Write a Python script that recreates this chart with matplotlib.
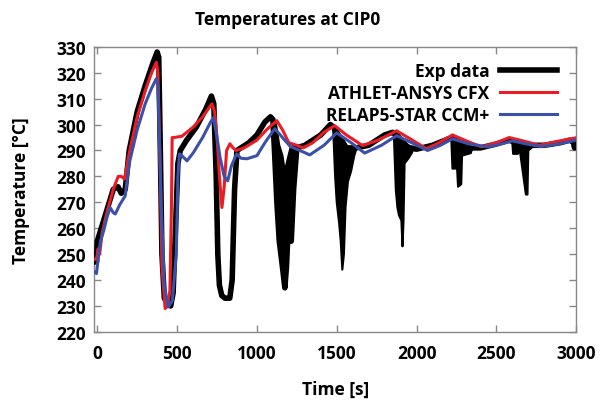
import numpy as np
from matplotlib import pyplot as plt

# Exp data main trace (time [s], temperature [C])
exp_t = [-15, -5, 0, 10, 40, 100, 130, 150, 175, 200, 250, 300, 350, 375, 385,
         395, 405, 420, 440, 460, 475, 490, 505, 520, 560, 620, 680, 715, 730,
         745, 755, 765, 780, 800, 830, 845, 860, 875, 900, 950, 1000, 1050, 1085,
         1100, 1110, 1125, 1140, 1160, 1175, 1185, 1200, 1215, 1230, 1250, 1300,
         1400, 1460, 1480, 1560, 1620, 1700, 1800, 1850, 1870, 1950, 2000, 2100,
         2200, 2240, 2310, 2400, 2500, 2580, 2600, 2700, 2800, 2900, 2960, 2985,
         2990, 3000]
exp_T = [247, 247, 255, 257, 263, 275, 276, 273.5, 275, 290, 305, 315, 324, 328, 326,
         290, 250, 233, 231, 230, 235, 260, 285, 290, 294, 299, 306, 311, 308,
         280, 250, 238, 234, 233, 233, 240, 275, 290, 291, 293, 296, 301, 303,
         302, 290, 270, 255, 245, 237, 245, 265, 255, 275, 291, 292,
         296, 300, 299, 291, 291, 292, 296, 297, 296, 291, 290.5, 292,
         294.5, 294.5, 291, 291, 292.5, 294, 293.5, 292, 292, 293, 294, 293,
         291, 294]

# Exp data fluctuation bands (lower / upper envelope), NaN separates the dips
dip_t = [1105, 1120, 1140, 1160, 1175, 1190, 1210, 1230, 1250, np.nan,
         1478, 1490, 1500, 1515, 1525, 1535, 1545, 1555, 1570, 1590, 1610, 1625, np.nan,
         1858, 1870, 1880, 1890, 1905, 1912, 1918, 1925, 1950, 1970, 1980, np.nan,
         2218, 2225, 2245, 2250, 2260, 2280, 2285, 2340, 2350, np.nan,
         2600, 2605, 2635, 2645, 2685, 2695, 2700, 2720, np.nan,
         2975, 2980, 2990]
dip_lo = [300, 278, 258, 246, 237, 250, 262, 276, 291, np.nan,
          298, 280, 270, 262, 255, 244, 250, 268, 278, 282, 288, 291, np.nan,
          296, 275, 268, 265, 263, 253, 262, 285, 287, 289, 291, np.nan,
          294, 283, 283, 288, 276, 277, 288, 289, 291, np.nan,
          293, 288.7, 288.7, 291, 273, 273, 290, 291, np.nan,
          293, 291, 293]
dip_hi = [302, 300, 292, 288, 282, 286, 291, 292, 292, np.nan,
          299, 298, 297, 296, 295, 294, 293, 292, 291.5, 291, 291, 291.5, np.nan,
          297, 297, 296.5, 296, 295, 294, 293.5, 293, 292, 291.5, 291.5, np.nan,
          294.5, 294.5, 294, 294, 293.5, 293, 292.5, 291.5, 291.5, np.nan,
          294, 294, 293.5, 293, 292.5, 292, 292, 292, np.nan,
          294, 294, 294]

# ATHLET-ANSYS CFX
cfx_t = [-15, -5, 5, 15, 30, 60, 100, 131, 150, 170, 200, 250, 300, 340, 370, 380,
         395, 405, 425, 440, 455, 465, 469, 480, 530, 600, 660, 718, 735, 750,
         765, 781, 795, 810, 831, 850, 870, 920, 1000, 1060, 1125, 1160, 1200,
         1250, 1290, 1350, 1420, 1487, 1560, 1662, 1760, 1875, 1960, 2062,
         2140, 2225, 2320, 2406, 2500, 2581, 2680, 2769, 2880, 3000]
cfx_T = [248, 248, 252, 250, 258, 266, 275, 280, 280, 279, 289, 303, 313, 320, 324, 320,
         280, 245, 229, 230, 236, 270, 295, 295, 295.5, 299, 303, 308, 305, 295,
         280, 268, 276, 290, 292.6, 291, 290, 291, 294, 298, 301.5, 298, 293,
         292, 291, 293, 297, 299.6, 296, 291.9, 294, 297.6, 294.5, 290.7,
         293, 296, 293.5, 291.4, 293, 295, 293.5, 292, 293.5, 294.9]

# RELAP5-STAR CCM+
ccm_t = [-15, -5, 5, 20, 40, 60, 80, 100, 113, 140, 175, 200, 250, 300, 340, 370, 380,
         400, 420, 444, 470, 495, 505, 515, 530, 562, 600, 660, 710, 727, 745,
         770, 795, 817, 840, 873, 900, 937, 1000, 1050, 1112, 1160, 1210, 1269,
         1331, 1420, 1500, 1590, 1675, 1780, 1875, 1970, 2069, 2150, 2225, 2330,
         2450, 2530, 2600, 2690, 2780, 2890, 3000]
ccm_T = [243, 242.5, 248, 255, 259, 264, 268, 266, 265.5, 269, 272.5, 285, 298, 308, 314, 317.7, 315,
         270, 238, 229.6, 232, 250, 280, 288.7, 288, 286, 289, 295, 301, 302.6, 297,
         287, 280, 278.3, 284, 288.7, 287, 286.8, 288, 293, 298.4, 295, 291.5, 290,
         288.3, 292, 296.8, 293, 289, 292, 295.7, 293, 290, 292, 294.5, 292.5,
         291.4, 292.5, 293.7, 292.5, 291.5, 292.5, 294]

x_ticks = [0, 500, 1000, 1500, 2000, 2500, 3000]
y_ticks = list(range(220, 331, 10))

plt.rcParams['font.family'] = ['Open Sans', 'DejaVu Sans']
plt.rcParams['font.weight'] = 'bold'

fig = plt.figure(figsize=(6.11, 4.02), dpi=100)
ax = fig.add_axes([0.154, 0.172, 0.789, 0.709])

ax.fill_between(dip_t, dip_lo, dip_hi, color='black', lw=1.5, edgecolor='black')
ax.plot(exp_t, exp_T, color='black', lw=4, solid_joinstyle='round', label='Exp data', zorder=3)
ax.plot(cfx_t, cfx_T, color='#ec1c24', lw=2.2, label='ATHLET-ANSYS CFX', zorder=4)
ax.plot(ccm_t, ccm_T, color='#3b50a8', lw=2.2, label='RELAP5-STAR CCM+', zorder=5)

ax.set_xlim(-20, 3000)
ax.set_ylim(220, 330)
ax.set_xticks(x_ticks)
ax.set_yticks(y_ticks)
ax.tick_params(direction='in', length=5, width=1, color='#888888',
               top=True, right=True, labelsize=12.5, pad=6)
ax.tick_params(axis='x', pad=9)
for s in ax.spines.values():
    s.set_color('#888888')
    s.set_linewidth(1)
for lab in ax.get_xticklabels() + ax.get_yticklabels():
    lab.set_fontweight('bold')

ax.set_xlabel('Time [s]', fontsize=12.5, fontweight='bold')
ax.set_ylabel('Temperature [°C]', fontsize=12.5, fontweight='bold')
ax.xaxis.set_label_coords(0.5, -0.17)
ax.yaxis.set_label_coords(-0.133, 0.5)
fig.text(0.47, 0.95, 'Temperatures at CIP0', ha='center', va='center',
         fontsize=12.5, fontweight='bold')

leg = ax.legend(loc='upper right', bbox_to_anchor=(0.961, 0.948), markerfirst=False,
                frameon=False, handlelength=3.3, handletextpad=0.6, borderpad=0,
                borderaxespad=0, labelspacing=0.25, prop={'size': 12.5, 'weight': 'bold'})

fig.savefig('out.png', dpi=100)
